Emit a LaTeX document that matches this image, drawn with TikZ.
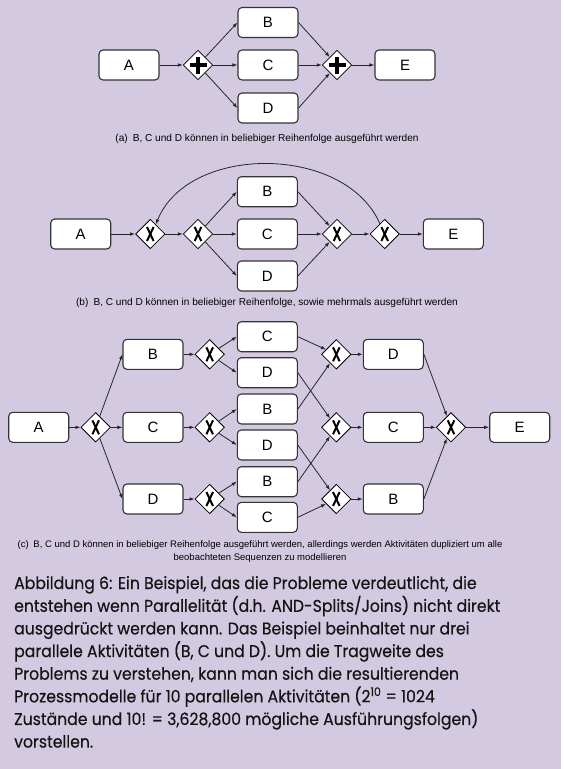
\documentclass[tikz,border=0pt]{standalone}
\usepackage{fontspec}
\setmainfont{Liberation Sans}
\newfontfamily\capfont{Poppins}[FakeBold=0.4]
\usetikzlibrary{shapes.geometric,arrows.meta}
\definecolor{bg}{RGB}{211,202,225}
\begin{document}
\begin{tikzpicture}[x=1pt,y=-1pt,
  task/.style={draw=black!80, line width=1.1pt, fill=white, rounded corners=4pt,
    minimum width=60pt, minimum height=30pt, inner sep=0pt,
    font=\fontsize{15}{15}\selectfont},
  gate/.style={diamond, draw=black, line width=0.8pt, fill=white, aspect=1,
    minimum width=29.5pt, minimum height=29.5pt, inner sep=0pt},
  xorgw/.style={gate, path picture={
    \draw[line width=2pt]
      ([shift={(-3.3pt,-7pt)}]path picture bounding box.center) --
      ([shift={(3.3pt,7pt)}]path picture bounding box.center);
    \draw[line width=2pt]
      ([shift={(3.3pt,-7pt)}]path picture bounding box.center) --
      ([shift={(-3.3pt,7pt)}]path picture bounding box.center);}},
  andgw/.style={gate, path picture={
    \draw[line width=3.2pt]
      ([xshift=-8.5pt]path picture bounding box.center) --
      ([xshift=8.5pt]path picture bounding box.center);
    \draw[line width=3.2pt]
      ([yshift=-8.5pt]path picture bounding box.center) --
      ([yshift=8.5pt]path picture bounding box.center);}},
  flow/.style={draw=black!85, line width=0.8pt, -{Latex[length=5pt,width=3.6pt]}},
  sub/.style={font=\fontsize{10.1}{13.3}\selectfont, align=center, inner sep=0pt}
]
\fill[bg] (0,0) rectangle (563,769);
\fill[white] (561,0) rectangle (563,769);
\useasboundingbox (0,0) rectangle (563,769);

% ---------- (a)
\node[task] (aA) at (129,65) {A};
\node[andgw] (ag1) at (198,65) {};
\node[task] (aB) at (268,22.5) {B};
\node[task] (aC) at (268,65) {C};
\node[task] (aD) at (268,108) {D};
\node[andgw] (ag2) at (337,65) {};
\node[task] (aE) at (405,65) {E};
\draw[flow] (aA) -- (ag1);
\draw[flow] (ag1) -- (aB.west);
\draw[flow] (ag1) -- (aC);
\draw[flow] (ag1) -- (aD.west);
\draw[flow] (aB.east) -- (ag2);
\draw[flow] (aC) -- (ag2);
\draw[flow] (aD.east) -- (ag2);
\draw[flow] (ag2) -- (aE);
\node[sub] (capa) at (267,139) {(a)\enspace B, C und D können in beliebiger Reihenfolge ausgeführt werden};

% ---------- (b)
\node[task] (bA) at (80.7,234) {A};
\node[xorgw] (bx1) at (150.3,234) {};
\node[xorgw] (bx2) at (198,234) {};
\node[task] (bB) at (267.3,191.7) {B};
\node[task] (bC) at (267.3,234) {C};
\node[task] (bD) at (267.3,276) {D};
\node[xorgw] (bx3) at (337,234) {};
\node[xorgw] (bx4) at (384.7,234) {};
\node[task] (bE) at (453.3,234) {E};
\draw[flow] (bA) -- (bx1);
\draw[flow] (bx1) -- (bx2);
\draw[flow] (bx2) -- (bB.west);
\draw[flow] (bx2) -- (bC);
\draw[flow] (bx2) -- (bD.west);
\draw[flow] (bB.east) -- (bx3);
\draw[flow] (bC) -- (bx3);
\draw[flow] (bD.east) -- (bx3);
\draw[flow] (bx3) -- (bx4);
\draw[flow] (bx4) -- (bE);
\draw[flow] (bx4.115) .. controls (345,144) and (188,144) .. (bx1.60);
\node[sub] (capb) at (267,303) {(b)\enspace B, C und D können in beliebiger Reihenfolge, sowie mehrmals ausgeführt werden};

% ---------- (c)
\node[task] (cA) at (38.7,427.3) {A};
\node[xorgw] (cx0) at (95.7,427.3) {};
\node[task] (cB) at (153,354.3) {B};
\node[task] (cC) at (153,427.3) {C};
\node[task] (cD) at (153,499) {D};
\node[xorgw] (cxb) at (209.7,354.3) {};
\node[xorgw] (cxc) at (209.7,427.3) {};
\node[xorgw] (cxd) at (209.7,499) {};
\node[task] (c1) at (267.3,336.7) {C};
\node[task] (c2) at (267.3,372.7) {D};
\node[task] (c3) at (267.3,409) {B};
\node[task] (c4) at (267.3,445) {D};
\node[task] (c5) at (267.3,481.7) {B};
\node[task] (c6) at (267.3,517.3) {C};
\node[xorgw] (cj1) at (336.3,354.3) {};
\node[xorgw] (cj2) at (336.3,427.3) {};
\node[xorgw] (cj3) at (336.3,499) {};
\node[task] (cD4) at (393.3,354.3) {D};
\node[task] (cC4) at (393.3,427.3) {C};
\node[task] (cB4) at (393.3,499) {B};
\node[xorgw] (cxf) at (451,427.3) {};
\node[task] (cE) at (519.7,427.3) {E};
\draw[flow] (cA) -- (cx0);
\draw[flow] (cx0) -- (cB.west);
\draw[flow] (cx0) -- (cC);
\draw[flow] (cx0) -- (cD.west);
\draw[flow] (cB) -- (cxb);
\draw[flow] (cC) -- (cxc);
\draw[flow] (cD) -- (cxd);
\draw[flow] (cxb) -- (c1.west);
\draw[flow] (cxb) -- (c2.west);
\draw[flow] (cxc) -- (c3.west);
\draw[flow] (cxc) -- (c4.west);
\draw[flow] (cxd) -- (c5.west);
\draw[flow] (cxd) -- (c6.west);
\draw[flow] (c1.east) -- (cj1);
\draw[flow] (c3.east) -- (cj1);
\draw[flow] (c2.east) -- (cj2);
\draw[flow] (c5.east) -- (cj2);
\draw[flow] (c4.east) -- (cj3);
\draw[flow] (c6.east) -- (cj3);
\draw[flow] (cj1) -- (cD4);
\draw[flow] (cj2) -- (cC4);
\draw[flow] (cj3) -- (cB4);
\draw[flow] (cD4.east) -- (cxf);
\draw[flow] (cC4) -- (cxf);
\draw[flow] (cB4.east) -- (cxf);
\draw[flow] (cxf) -- (cE);
\node[sub, font=\fontsize{9.5}{13.3}\selectfont] (capc) at (260,551.5) {(c)\enspace B, C und D können in beliebiger Reihenfolge ausgeführt werden, allerdings werden Aktivitäten dupliziert um alle\\beobachteten Sequenzen zu modellieren};

% ---------- main caption
\node[anchor=north west, inner sep=0pt, text=black!92,
  font=\capfont\fontsize{17}{22.6}\selectfont] (main) at (14,573) {\scalebox{0.922}[1]{%
\begin{tabular}{@{}l@{}}
Abbildung 6: Ein Beispiel, das die Probleme verdeutlicht, die\\
entstehen wenn Parallelität (d.h. AND-Splits/Joins) nicht direkt\\
ausgedrückt werden kann. Das Beispiel beinhaltet nur drei\\
parallele Aktivitäten (B, C und D). Um die Tragweite des\\
Problems zu verstehen, kann man sich die resultierenden\\
Prozessmodelle für 10 parallelen Aktivitäten (2\textsuperscript{10} = 1024\\
Zustände und 10! = 3,628,800 mögliche Ausführungsfolgen)\\
vorstellen.
\end{tabular}}};
\end{tikzpicture}
\end{document}
